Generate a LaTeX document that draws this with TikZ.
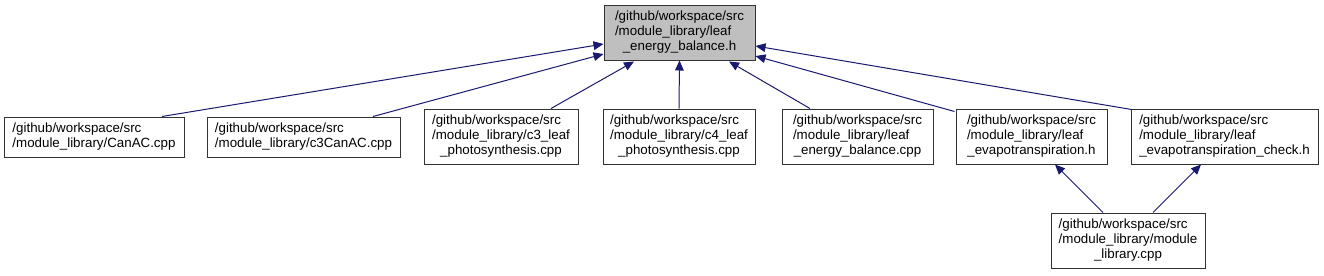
\documentclass[tikz,border=0pt]{standalone}
\usepackage{fontspec}
\setmainfont{Liberation Sans}
\usetikzlibrary{arrows.meta,calc}
\definecolor{edgeblue}{HTML}{191970}
\definecolor{curfill}{HTML}{BFBFBF}
% lines of a file label: upper lines flush left, last one centred
\newcommand{\flines}[2]{\begin{tabular}{@{}l@{}}#1\\\multicolumn{1}{@{}c@{}}{#2}\end{tabular}}
\tikzset{
    filebox/.style={draw=black!80, line width=0.75pt, fill=white, inner sep=0pt,
        font=\fontsize{10}{11}\selectfont, minimum height=30pt},
    tall/.style={minimum height=41.25pt},
    dep/.style={draw=edgeblue, line width=0.75pt,
        -{Triangle[length=7.5pt,width=6.5pt,fill=edgeblue]}},
}
\begin{document}
\begin{tikzpicture}[x=0.75pt, y=-0.75pt]
    \useasboundingbox (0,0) rectangle (1324,275);

    % file that is included
    \node[filebox, tall, fill=curfill, minimum width=113.25pt] (top) at (679.5,32.5)
        {\flines{/github/workspace/src\\/module\_library/leaf}{\_energy\_balance.h}};

    % files that include it directly
    \node[filebox, minimum width=135pt] (canac) at (94,137)
        {\flines{/github/workspace/src}{/module\_library/CanAC.cpp}};
    \node[filebox, minimum width=144.75pt] (c3canac) at (303.5,137)
        {\flines{/github/workspace/src}{/module\_library/c3CanAC.cpp}};
    \node[filebox, tall, minimum width=115.5pt] (c3leaf) at (501,136.5)
        {\flines{/github/workspace/src\\/module\_library/c3\_leaf}{\_photosynthesis.cpp}};
    \node[filebox, tall, minimum width=114pt] (c4leaf) at (679,136.5)
        {\flines{/github/workspace/src\\/module\_library/c4\_leaf}{\_photosynthesis.cpp}};
    \node[filebox, tall, minimum width=113.25pt] (lebcpp) at (857.5,136.5)
        {\flines{/github/workspace/src\\/module\_library/leaf}{\_energy\_balance.cpp}};
    \node[filebox, tall, minimum width=113.25pt] (evap) at (1031.5,136.5)
        {\flines{/github/workspace/src\\/module\_library/leaf}{\_evapotranspiration.h}};
    \node[filebox, tall, minimum width=140.25pt] (evapcheck) at (1224.5,136.5)
        {\flines{/github/workspace/src\\/module\_library/leaf}{\_evapotranspiration\_check.h}};

    % second level
    \node[filebox, tall, minimum width=115.5pt] (modlib) at (1128,240.5)
        {\flines{/github/workspace/src\\/module\_library/module}{\_library.cpp}};

    % include edges
    \draw[dep] ($(canac.north)+(68,0)$) -- ($(top.west)+(0,11.5)$);
    \draw[dep] ($(c3canac.north)+(69.5,0)$) -- ($(top.west)+(0,21.5)$);
    \draw[dep] ($(c3leaf.north)+(50,0)$) -- ($(top.south)+(-45.5,1)$);
    \draw[dep] (c4leaf.north) -- (top.south);
    \draw[dep] ($(lebcpp.north)+(-47.5,0)$) -- ($(top.south)+(49.5,1)$);
    \draw[dep] ($(evap.north west)+(-1,3)$) -- ($(top.east)+(0,23.5)$);
    \draw[dep] ($(evapcheck.north west)+(1,1)$) -- ($(top.east)+(0,13.5)$);
    \draw[dep] ($(modlib.north)+(-25,0)$) -- ($(evap.south)+(23.5,0)$);
    \draw[dep] ($(modlib.north)+(25,0)$) -- ($(evapcheck.south)+(-23.5,0)$);
\end{tikzpicture}
\end{document}
